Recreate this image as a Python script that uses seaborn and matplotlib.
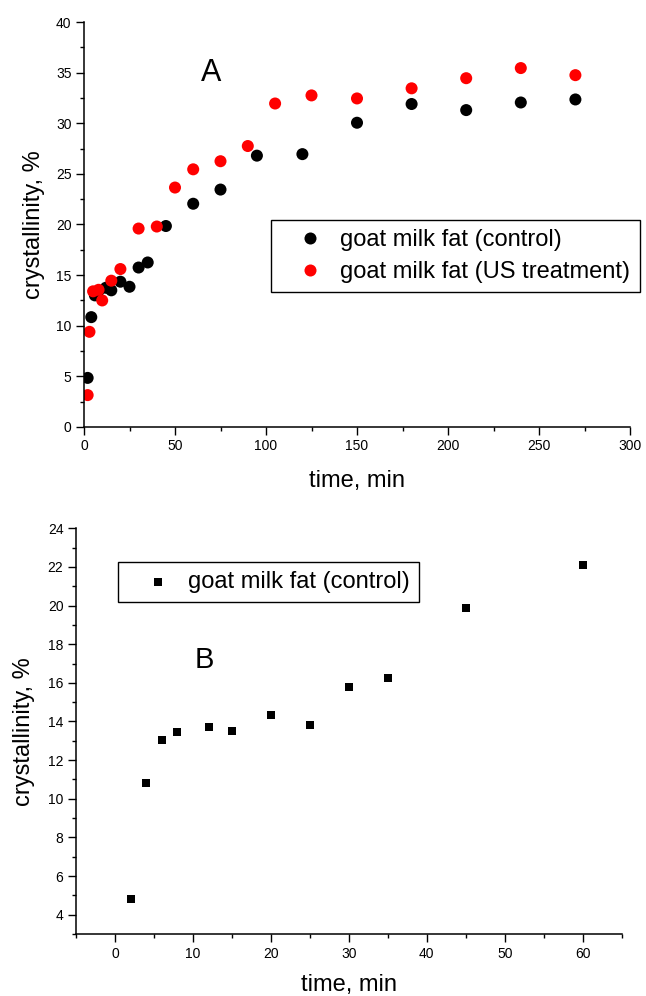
import matplotlib
matplotlib.use("Agg")
import matplotlib.pyplot as plt
import seaborn as sns
import pandas as pd
from matplotlib.ticker import MultipleLocator

sns.set_style("ticks")
plt.rcParams['font.family'] = ['Liberation Sans', 'DejaVu Sans']
plt.rcParams['text.color'] = 'black'
plt.rcParams['axes.labelcolor'] = 'black'
plt.rcParams['xtick.color'] = 'black'
plt.rcParams['ytick.color'] = 'black'

# Panel A data
time_control = [2, 4, 6, 8, 12, 15, 20, 25, 30, 35, 45, 60, 75, 95, 120, 150, 180, 210, 240, 270]
cryst_control = [4.85, 10.85, 13.0, 13.45, 13.75, 13.5, 14.35, 13.85, 15.75, 16.25, 19.85, 22.05, 23.45, 26.8, 26.95, 30.05, 31.9, 31.3, 32.05, 32.35]
time_us = [2, 3, 5, 8, 10, 15, 20, 30, 40, 50, 60, 75, 90, 105, 125, 150, 180, 210, 240, 270]
cryst_us = [3.15, 9.4, 13.4, 13.55, 12.5, 14.45, 15.6, 19.6, 19.8, 23.65, 25.45, 26.25, 27.75, 31.95, 32.75, 32.45, 33.45, 34.45, 35.45, 34.75]
label_control = "goat milk fat (control)"
label_us = "goat milk fat (US treatment)"

# Panel B data (first 60 min, control)
time_b = [2, 4, 6, 8, 12, 15, 20, 25, 30, 35, 45, 60]
cryst_b = [4.83, 10.84, 13.03, 13.45, 13.74, 13.53, 14.36, 13.84, 15.76, 16.24, 19.87, 22.08]

df_a = pd.DataFrame({
    "time": time_control + time_us,
    "cryst": cryst_control + cryst_us,
    "series": [label_control] * len(time_control) + [label_us] * len(time_us),
})
df_b = pd.DataFrame({"time": time_b, "cryst": cryst_b})

fig = plt.figure(figsize=(6.46, 9.96), dpi=100)

TICK_FS = 10
LABEL_FS = 17
LEG_FS = 17

def style_axes(ax):
    ax.spines['top'].set_visible(False)
    ax.spines['right'].set_visible(False)
    for s in ('left', 'bottom'):
        ax.spines[s].set_linewidth(1.1)
        ax.spines[s].set_color('black')
    ax.tick_params(which='major', direction='out', length=5.5, width=1.0, labelsize=TICK_FS, colors='black')
    ax.tick_params(which='minor', direction='out', length=3, width=1.0, colors='black')

LEG_KW = dict(fontsize=LEG_FS, frameon=True, fancybox=False, edgecolor='black',
              framealpha=1, borderpad=0.4, handletextpad=0.0, handlelength=2.55,
              borderaxespad=0)

# ---- Panel A ----
axA = fig.add_axes([84/646, 1-427/996, 546/646, 405/996])
sns.scatterplot(data=df_a, x="time", y="cryst", hue="series",
                palette={label_control: "black", label_us: "#ff0000"},
                s=75, linewidth=0, marker='o', ax=axA, legend=True)
axA.set_xlim(0, 300)
axA.set_ylim(0, 40)
axA.xaxis.set_major_locator(MultipleLocator(50))
axA.xaxis.set_minor_locator(MultipleLocator(25))
axA.yaxis.set_major_locator(MultipleLocator(5))
axA.yaxis.set_minor_locator(MultipleLocator(2.5))
style_axes(axA)
axA.set_xlabel("time, min", fontsize=LABEL_FS, labelpad=12)
axA.set_ylabel("crystallinity, %", fontsize=LABEL_FS, labelpad=8)
axA.text(70, 35.0, "A", fontsize=22, ha='center', va='center')
handles, labels = axA.get_legend_handles_labels()
legA = axA.legend(handles, labels, loc='upper left', bbox_to_anchor=(0.342, 0.512),
                  labelspacing=0.42, **LEG_KW)
legA.get_frame().set_linewidth(1.0)

# ---- Panel B ----
axB = fig.add_axes([76/646, 1-934/996, 545.7/646, 405.7/996])
sns.scatterplot(data=df_b, x="time", y="cryst", color="black", marker='s',
                s=30, linewidth=0, ax=axB, label=label_control)
axB.set_xlim(-5, 65)
axB.set_ylim(3, 24)
axB.xaxis.set_major_locator(MultipleLocator(10))
axB.xaxis.set_minor_locator(MultipleLocator(5))
axB.yaxis.set_major_locator(MultipleLocator(2))
axB.yaxis.set_minor_locator(MultipleLocator(1))
style_axes(axB)
axB.set_xlabel("time, min", fontsize=LABEL_FS, labelpad=10)
axB.set_ylabel("crystallinity, %", fontsize=LABEL_FS, labelpad=9)
axB.text(11.5, 17.2, "B", fontsize=21, ha='center', va='center')
legB = axB.legend(loc='upper left', bbox_to_anchor=(0.0775, 0.918), **LEG_KW)
legB.get_frame().set_linewidth(1.0)

fig.savefig("out.png", dpi=100)
